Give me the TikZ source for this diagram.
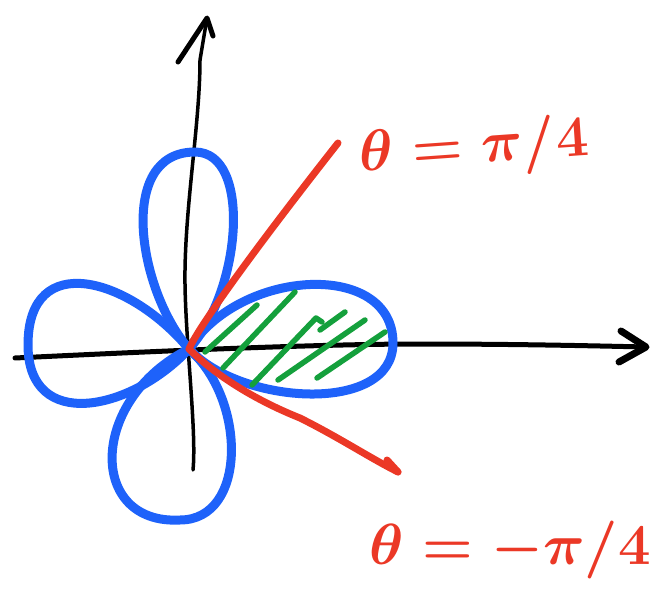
\documentclass[tikz,border=0pt]{standalone}
\usetikzlibrary{calc}
\definecolor{petal}{RGB}{30,98,250}
\definecolor{ray}{RGB}{235,56,38}
\definecolor{hatch}{RGB}{20,160,60}
\newcommand{\biglabel}[1]{\scalebox{2.33}{\Huge\boldmath$#1$}}
\begin{document}
\begin{tikzpicture}[x=1pt,y=-1pt,
  axis/.style={line width=5pt,black,line cap=round,line join=round},
  vaxis/.style={line width=3.5pt,black,line cap=round,line join=round},
  petalline/.style={line width=9pt,petal,line cap=round,line join=round},
  rayline/.style={line width=7pt,ray,line cap=round,line join=round},
  hatchline/.style={line width=5.5pt,hatch,line cap=round,line join=round},
  lbl/.style={text=ray,inner sep=0pt}]
\useasboundingbox (0,0) rectangle (660,601);
% axes
\coordinate (O) at (189,349);
\coordinate (vb) at (193,470);
\coordinate (vt) at (207,18);
\coordinate (hl) at (15,358);
\coordinate (hr) at (646,347);
\draw[vaxis] (vb) .. controls (197,430) and (184,330) .. (185,270)
  .. controls (186,200) and (200,120) .. (200,60) -- (vt);
\draw[vaxis,line width=5pt] (178,62) -- (vt) -- (213,36);
\draw[axis] (hl) .. controls (100,354) and (300,344) .. (420,344) .. controls (520,344) and (600,346) .. (hr);
\draw[axis,line width=7pt] (621,331) -- (hr) -- (619,362);
% petals
\draw[petalline] (O) .. controls (138,290) and (116,152) .. (195,152)
  .. controls (252,152) and (242,290) .. (O);
\draw[petalline] (O) .. controls (130,278) and (28,248) .. (28,345)
  .. controls (28,432) and (130,412) .. (O);
\draw[petalline] (O) .. controls (88,400) and (88,525) .. (180,520)
  .. controls (247,520) and (247,400) .. (O);
\draw[petalline] (O) .. controls (240,268) and (393,260) .. (393,343)
  .. controls (393,415) and (240,405) .. (O);
% hatching
\draw[hatchline] (205,352) -- (257,305);
\draw[hatchline] (223,368) -- (295,292);
\draw[hatchline] (252,385) -- (316,318) -- (322,322);
\draw[hatchline] (320,330) -- (345,312);
\draw[hatchline] (278,380) -- (365,320);
\draw[hatchline] (317,378) -- (385,332);
% rays
\coordinate (ru) at (338,143);
\coordinate (rd) at (398,472);
\draw[rayline] (O) .. controls (198,328) and (250,255) .. (ru);
\draw[rayline] (O) .. controls (212,372) and (250,398) .. (300,418)
  .. controls (340,438) and (370,458) .. (rd);
\draw[rayline] (387,460) -- (rd);
% labels
\node[lbl,rotate=4] (l1) at (474,149) {\biglabel{\theta = \pi/4}};
\node[lbl] (l2) at (510,550) {\biglabel{\theta = -\pi/4}};
\end{tikzpicture}
\end{document}
